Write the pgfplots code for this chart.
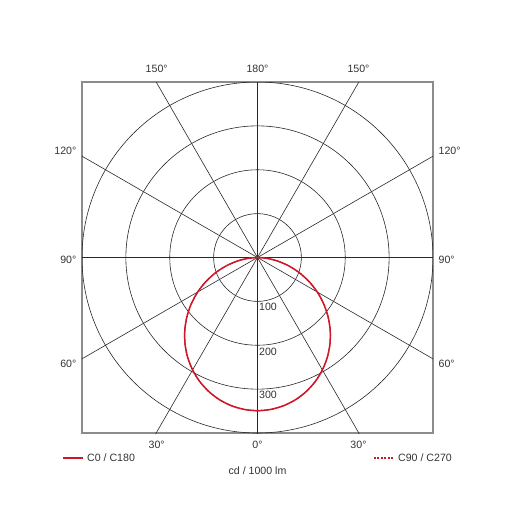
\documentclass[border=0pt]{standalone}
\usepackage{pgfplots}
\pgfplotsset{compat=1.18}
\usepackage{fontspec}
\setmainfont{Liberation Sans}

\definecolor{curvered}{RGB}{204,24,40}
\definecolor{framegray}{RGB}{140,140,140}
\definecolor{gridgray}{RGB}{40,40,40}
\definecolor{textgray}{RGB}{50,50,50}

\begin{document}
\begin{tikzpicture}[x=1pt,y=1pt,font=\fontsize{10.6}{12}\selectfont,every node/.style={text=textgray,inner sep=0pt}]
  % canvas (515 x 515 px, 1 px = 1 pt)
  \path (-82,-82) rectangle (433,433);
  \begin{axis}[
      at={(0,0)}, anchor=south west,
      scale only axis,
      width=351pt, height=351pt,
      xmin=-400, xmax=400, ymin=-400, ymax=400,
      ticks=none,
      axis line style={framegray, line width=1.3pt},
      clip=true,
    ]
    % radial lines every 30 degrees
    \pgfplotsinvokeforeach{0,30,60,90,120,150}{
      \draw[gridgray, line width=0.6pt]
        (axis cs:{-700*cos(#1)},{-700*sin(#1)}) -- (axis cs:{700*cos(#1)},{700*sin(#1)});
    }
    % intensity circles
    \pgfplotsinvokeforeach{100,200,300,400}{
      \draw[gridgray, line width=0.6pt] (axis cs:0,0) circle[radius=#1];
    }
    % C0 / C180
    \addplot[curvered, line width=1.5pt, smooth, data cs=polar] coordinates {
      (180,0) (185,21.1) (190,46.6) (195,73.8) (200,101.6) (205,129.6)
      (210,157.3) (215,184.2) (220,209.9) (225,234.3) (230,256.9) (235,277.5)
      (240,295.8) (245,311.7) (250,324.9) (255,335.4) (260,342.9) (265,347.5)
      (270,349) (275,347.5) (280,342.9) (285,335.4) (290,324.9) (295,311.7)
      (300,295.8) (305,277.5) (310,256.9) (315,234.3) (320,209.9) (325,184.2)
      (330,157.3) (335,129.6) (340,101.6) (345,73.8) (350,46.6) (355,21.1)
      (360,0)
    };
    % C90 / C270
    \addplot[curvered, line width=1.2pt, dash pattern=on 1.5pt off 1.3pt, smooth, data cs=polar] coordinates {
      (180,0) (185,21.3) (190,46.9) (195,74.1) (200,101.9) (205,129.9)
      (210,157.6) (215,184.5) (220,210.2) (225,234.6) (230,257.2) (235,277.8)
      (240,296.1) (245,312.0) (250,325.2) (255,335.7) (260,343.1) (265,347.7)
      (270,349.2) (275,347.7) (280,343.1) (285,335.7) (290,325.2) (295,312.0)
      (300,296.1) (305,277.8) (310,257.2) (315,234.6) (320,210.2) (325,184.5)
      (330,157.6) (335,129.9) (340,101.9) (345,74.1) (350,46.9) (355,21.3)
      (360,0)
    };
  \end{axis}
  % angle labels
  \node at (74.7,364) {150°};
  \node at (175.5,364) {180°};
  \node at (276.5,364) {150°};
  \node[anchor=east] at (-5.5,282.3) {120°};
  \node[anchor=east] at (-5.5,173) {90°};
  \node[anchor=east] at (-5.5,69) {60°};
  \node[anchor=west] at (356.5,282.3) {120°};
  \node[anchor=west] at (356.5,173) {90°};
  \node[anchor=west] at (356.5,69) {60°};
  \node at (74.7,-12) {30°};
  \node at (175.5,-12) {0°};
  \node at (276.5,-12) {30°};
  % intensity labels
  \node[anchor=west] at (177,126) {100};
  \node[anchor=west] at (177,81.3) {200};
  \node[anchor=west] at (177,38) {300};
  % legend and unit
  \draw[curvered, line width=1.6pt] (-19,-24.7) -- (1,-24.7);
  \node[anchor=west] at (5,-24.7) {C0 / C180};
  \draw[draw=curvered, line width=1.6pt, dash pattern=on 2pt off 1.4pt] (292,-24.7) -- (311,-24.7);
  \node[anchor=west] at (316,-24.7) {C90 / C270};
  \node at (175.5,-37.5) {cd / 1000 lm};
\end{tikzpicture}
\end{document}
